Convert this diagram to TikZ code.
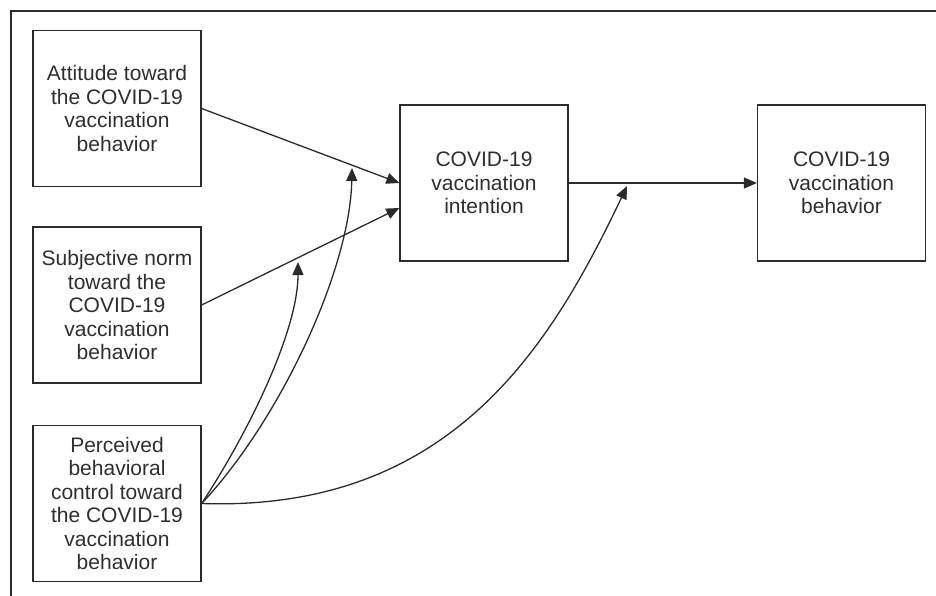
\documentclass[tikz,border=0pt]{standalone}
\usepackage{fontspec}
\setmainfont{Liberation Sans}
\usetikzlibrary{arrows.meta}
\definecolor{linec}{HTML}{2A2A2A}
\definecolor{textc}{HTML}{2E2E2E}
\begin{document}
\begin{tikzpicture}[x=1pt,y=-1pt,
  box/.style={draw=linec, line width=1.3pt, minimum width=168pt, minimum height=156pt,
    inner sep=0pt, align=center, font=\fontsize{21pt}{23.5pt}\selectfont, text=textc},
  conn/.style={draw=linec, line width=1.3pt, -{Triangle[length=13pt,width=11pt]}},
  frame/.style={draw=linec, line width=1.3pt}]
\useasboundingbox (0,0) rectangle (936,596);
\draw[frame] (936,11) -- (11,11) -- (11,596);

\node[box] (att) at (117,108.5) {Attitude toward\\the COVID-19\\vaccination\\behavior};
\node[box] (sub) at (117,305) {Subjective norm\\toward the\\COVID-19\\vaccination\\behavior};
\node[box] (pbc) at (117,503.5) {Perceived\\behavioral\\control toward\\the COVID-19\\vaccination\\behavior};
\node[box] (int) at (484,183) {COVID-19\\vaccination\\intention};
\node[box] (beh) at (841.5,183) {COVID-19\\vaccination\\behavior};

\coordinate (intlow) at ([yshift=-25pt]int.west);
\coordinate (tA) at (298,262);
\coordinate (tB) at (352,168);
\coordinate (tC) at (627,186);

\draw[conn] (att.east) -- (int.west);
\draw[conn] (sub.east) -- (intlow);
\draw[conn] (int.east) -- (beh.west);
\draw[conn] (pbc.east) .. controls (250,430) and (298,330) .. (tA);
\draw[conn] (pbc.east) .. controls (280,420) and (350,270) .. (tB);
\draw[conn] (pbc.east) .. controls (450,512) and (550,348) .. (tC);
\end{tikzpicture}
\end{document}
